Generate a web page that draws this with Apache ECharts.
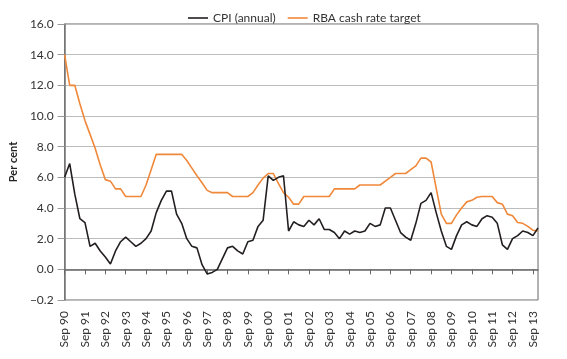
<!DOCTYPE html>
<html>
<head>
<meta charset="utf-8">
<script src="https://cdn.jsdelivr.net/npm/echarts@6/dist/echarts.min.js"></script>
<style>
html,body{margin:0;padding:0;background:#fff;}
#chart{width:567px;height:359px;}
</style>
</head>
<body>
<div id="chart"></div>
<script>
// Quarterly categories, Sep 1990 to Dec 2013
var quarterMonths = ['Sep', 'Dec', 'Mar', 'Jun'];
var startYear = 1990;
var nQuarters = 94;
var categories = [];
for (var i = 0; i < nQuarters; i++) {
  var m = quarterMonths[i % 4];
  // Sep/Dec belong to year startYear + floor(i/4); Mar/Jun to the following year
  var yr = startYear + Math.floor(i / 4) + (i % 4 >= 2 ? 1 : 0);
  categories.push(m + ' ' + String(yr % 100).padStart(2, '0'));
}

var cpiAnnual = [
  6.0, 6.9, 4.9, 3.3, 3.05, 1.5, 1.7, 1.2, 0.8, 0.35,
  1.2, 1.8, 2.1, 1.8, 1.5, 1.7, 2.0, 2.5, 3.7, 4.5,
  5.1, 5.1, 3.6, 3.0, 2.0, 1.5, 1.4, 0.3, -0.3, -0.2,
  0.0, 0.7, 1.4, 1.5, 1.2, 1.0, 1.8, 1.9, 2.8, 3.2,
  6.1, 5.8, 6.0, 6.1, 2.5, 3.1, 2.9, 2.8, 3.2, 2.9,
  3.3, 2.6, 2.6, 2.4, 2.0, 2.5, 2.3, 2.5, 2.4, 2.5,
  3.0, 2.8, 2.9, 4.0, 4.0, 3.2, 2.4, 2.1, 1.9, 3.0,
  4.3, 4.5, 5.0, 3.7, 2.5, 1.5, 1.3, 2.2, 2.9, 3.1,
  2.9, 2.8, 3.3, 3.5, 3.4, 3.0, 1.6, 1.3, 2.0, 2.2,
  2.5, 2.4, 2.2, 2.7
];

var cashRateTarget = [
  14.0, 12.0, 12.0, 10.8, 9.7, 8.8, 7.9, 6.8, 5.85, 5.75,
  5.25, 5.25, 4.75, 4.75, 4.75, 4.75, 5.5, 6.5, 7.5, 7.5,
  7.5, 7.5, 7.5, 7.5, 7.1, 6.6, 6.1, 5.65, 5.15, 5.0,
  5.0, 5.0, 5.0, 4.75, 4.75, 4.75, 4.75, 5.0, 5.5, 5.95,
  6.25, 6.25, 5.6, 5.0, 4.7, 4.25, 4.25, 4.75, 4.75, 4.75,
  4.75, 4.75, 4.75, 5.25, 5.25, 5.25, 5.25, 5.25, 5.5, 5.5,
  5.5, 5.5, 5.5, 5.75, 6.0, 6.25, 6.25, 6.25, 6.5, 6.75,
  7.25, 7.25, 7.0, 5.3, 3.6, 3.0, 3.0, 3.55, 4.0, 4.4,
  4.5, 4.7, 4.75, 4.75, 4.75, 4.35, 4.25, 3.6, 3.5, 3.05,
  3.0, 2.8, 2.55, 2.5
];

var yMin = -2, yMax = 16, yStep = 2;
var yTickLabels = ['\u22120.2', '0.0', '2.0', '4.0', '6.0', '8.0', '10.0', '12.0', '14.0', '16.0'];

var cpiColor = '#231f20';
var rbaColor = '#f0883a';
var font = 'Lato, "DejaVu Sans", sans-serif';
var chart = echarts.init(document.getElementById('chart'), null, {renderer: 'canvas'});
chart.setOption({
  animation: false,
  backgroundColor: '#ffffff',
  legend: {
    top: 7,
    left: 183,
    icon: 'rect',
    itemWidth: 20,
    itemHeight: 1.6,
    itemGap: 12,
    textStyle: {fontFamily: font, fontSize: 12, color: '#333'},
    data: [
      {name: 'CPI (annual)', itemStyle: {color: cpiColor}},
      {name: 'RBA cash rate target', itemStyle: {color: rbaColor}}
    ]
  },
  grid: {left: 49, right: 29, top: 24, bottom: 59, show: true, borderColor: '#666', borderWidth: 1},
  xAxis: {
    type: 'category',
    data: categories,
    boundaryGap: false,
    axisLine: {lineStyle: {color: '#666', width: 1.5}},
    axisTick: {interval: 3, length: 5, lineStyle: {color: '#666'}},
    axisLabel: {
      interval: 3, rotate: 90, margin: 11,
      fontFamily: font, fontSize: 12, color: '#333'
    },
    splitLine: {show: false}
  },
  yAxis: {
    type: 'value',
    min: yMin, max: yMax, interval: yStep,
    name: 'Per cent',
    nameLocation: 'middle',
    nameGap: 45,
    nameTextStyle: {fontFamily: font, fontSize: 11, fontWeight: 'bold', color: '#222'},
    axisLine: {show: true, lineStyle: {color: '#777', width: 1.5}},
    axisTick: {show: true, length: 7, lineStyle: {color: '#999'}},
    axisLabel: {
      margin: 11, fontFamily: font, fontSize: 12, color: '#333',
      formatter: function (v) { return yTickLabels[Math.round((v - yMin) / yStep)]; }
    },
    splitLine: {lineStyle: {color: '#bdbdbd', width: 1}}
  },
  series: [
    {
      name: 'CPI (annual)', type: 'line', data: cpiAnnual,
      symbol: 'none', z: 3,
      lineStyle: {color: cpiColor, width: 1.6},
      itemStyle: {color: cpiColor}
    },
    {
      name: 'RBA cash rate target', type: 'line', data: cashRateTarget,
      symbol: 'none', z: 2,
      lineStyle: {color: rbaColor, width: 1.6},
      itemStyle: {color: rbaColor}
    }
  ]
});
</script>
</body>
</html>
